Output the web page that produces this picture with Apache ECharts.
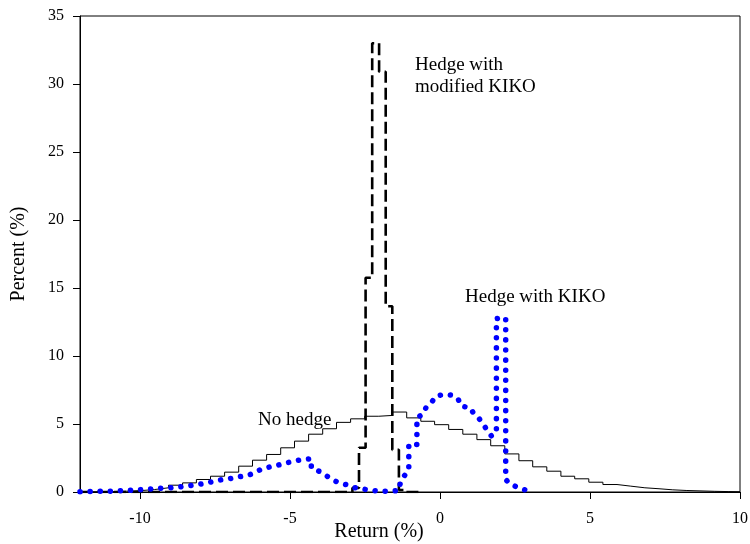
<!DOCTYPE html>
<html>
<head>
<meta charset="utf-8">
<script src="https://cdn.jsdelivr.net/npm/echarts@6/dist/echarts.min.js"></script>
<style>
  html, body { margin: 0; padding: 0; background: #fff; }
  #chart { width: 750px; height: 544px; }
</style>
</head>
<body>
<div id="chart"></div>
<script>
// No hedge: histogram bin edges (return, %) and the percentage in each bin
const noHedgeEdges = [
  -11.85, -11.38, -10.92, -10.45, -9.98, -9.52, -9.05, -8.58, -8.12, -7.65,
  -7.18, -6.71, -6.25, -5.78, -5.31, -4.85, -4.38, -3.91, -3.45, -2.98,
  -2.51, -2.04, -1.58, -1.11, -0.64, -0.18, 0.29, 0.76, 1.23, 1.69,
  2.16, 2.63, 3.09, 3.56, 4.03, 4.49, 4.96, 5.43, 5.90, 6.36,
  6.83, 7.30, 7.76, 8.23, 8.70, 9.16, 9.63, 10.0
];
const noHedgePct = [
  0.02, 0.03, 0.06, 0.10, 0.18, 0.31, 0.50, 0.67, 0.92, 1.16,
  1.46, 1.90, 2.34, 2.76, 3.25, 3.74, 4.25, 4.65, 5.12, 5.38,
  5.57, 5.63, 5.88, 5.45, 5.20, 4.95, 4.60, 4.25, 3.85, 3.40,
  2.80, 2.30, 1.85, 1.53, 1.16, 0.97, 0.72, 0.55, 0.43, 0.31,
  0.24, 0.16, 0.11, 0.08, 0.05, 0.03, 0.02
];

// Hedge with modified KIKO: bin edges and percentages
const modKikoEdges = [-12, -2.92, -2.70, -2.48, -2.26, -2.03, -1.81, -1.59, -1.37, -1.15, -0.67];
const modKikoPct = [0, 0.30, 3.25, 15.75, 33.0, 30.9, 13.66, 3.10, 0.15, 0];

// Hedge with KIKO: return / percentage pairs along the curve
const kikoReturn = [
  -12.0, -11.6, -11.0, -10.6, -10.3, -9.94, -9.6, -9.3, -9.0, -8.7,
  -8.39, -8.11, -7.81, -7.53, -7.24, -6.98, -6.7, -6.42, -6.17, -5.94,
  -5.69, -5.42, -5.13, -4.87, -4.59, -4.29, -4.29, -4.0, -3.8, -3.61,
  -3.36, -3.11, -2.87, -2.61, -2.31, -2.0, -1.69, -1.37, -1.32, -1.2,
  -1.04, -1.04, -0.77, -0.77, -0.56, -0.47, -0.28, -0.13, 0.11, 0.42,
  0.61, 0.72, 1.0, 1.13, 1.31, 1.44, 1.58, 1.72, 1.88, 1.88,
  2.19, 2.19, 2.33, 2.56, 2.8, 3.07
];
const kikoPct = [
  0.02, 0.04, 0.06, 0.10, 0.13, 0.18, 0.23, 0.28, 0.31, 0.38,
  0.44, 0.55, 0.63, 0.80, 0.92, 0.99, 1.12, 1.21, 1.41, 1.70,
  1.83, 1.96, 2.14, 2.27, 2.39, 2.44, 1.75, 1.50, 1.22, 0.92,
  0.67, 0.53, 0.32, 0.25, 0.11, 0.06, 0.06, 0.10, 0.70, 1.16,
  1.60, 3.50, 3.50, 5.45, 5.75, 6.19, 6.60, 7.04, 7.17, 7.12,
  6.80, 6.31, 6.19, 5.75, 5.38, 4.96, 4.54, 4.10, 4.47, 12.75,
  12.80, 0.92, 0.60, 0.37, 0.18, 0.00
];

const xTicks = [-10, -5, 0, 5, 10];

// Step series: one point per bin at its left edge, closed at the last edge
function binPoints(edges, pct) {
  const pts = pct.map((v, i) => [edges[i], v]);
  pts.push([edges[edges.length - 1], pct[pct.length - 1]]);
  return pts;
}

const serif = '"Liberation Serif", "Times New Roman", serif';
const chart = echarts.init(document.getElementById('chart'), null, { renderer: 'canvas' });

chart.setOption({
  animation: false,
  backgroundColor: '#fff',
  grid: {
    left: 80, right: 10, top: 16, bottom: 52,
    outerBoundsMode: 'none',
    containLabel: false,
    show: true, borderColor: '#000', borderWidth: 1, backgroundColor: 'transparent'
  },
  xAxis: {
    type: 'value',
    min: -12, max: 10,
    axisLine: { show: true, onZero: false, lineStyle: { color: '#000', width: 1 } },
    axisTick: { show: true, length: 7, customValues: xTicks, lineStyle: { color: '#000' } },
    axisLabel: { customValues: xTicks, margin: 19, color: '#000', fontFamily: serif, fontSize: 16 },
    splitLine: { show: false },
    name: 'Return (%)',
    nameLocation: 'middle',
    nameGap: 30,
    nameMoveOverlap: false,
    nameTextStyle: { color: '#000', fontFamily: serif, fontSize: 20, padding: [0, 62, 0, 0] }
  },
  yAxis: {
    type: 'value',
    min: 0, max: 35, interval: 5,
    axisLine: { show: true, onZero: false, lineStyle: { color: '#000', width: 1 } },
    axisTick: { show: true, length: 7, lineStyle: { color: '#000' } },
    axisLabel: { margin: 16, color: '#000', fontFamily: serif, fontSize: 16 },
    splitLine: { show: false },
    name: 'Percent (%)',
    nameLocation: 'middle',
    nameGap: 51,
    nameMoveOverlap: false,
    nameTextStyle: { color: '#000', fontFamily: serif, fontSize: 20 }
  },
  series: [
    {
      name: 'No hedge',
      type: 'line',
      step: 'end',
      data: binPoints(noHedgeEdges, noHedgePct),
      showSymbol: false,
      lineStyle: { color: '#000', width: 1 },
      z: 2
    },
    {
      name: 'Hedge with modified KIKO',
      type: 'line',
      step: 'end',
      data: binPoints(modKikoEdges, modKikoPct),
      showSymbol: false,
      lineStyle: { color: '#000', width: 2.6, type: [12, 5] },
      z: 3
    },
    {
      name: 'Hedge with KIKO',
      type: 'line',
      data: kikoReturn.map((x, i) => [x, kikoPct[i]]),
      showSymbol: false,
      lineStyle: { color: '#0000ff', width: 5.5, type: [0.1, 10], cap: 'round', join: 'round' },
      z: 4
    }
  ],
  graphic: [
    {
      type: 'text', x: 415, y: 54,
      style: { text: 'Hedge with\nmodified KIKO', font: '19px ' + serif, fill: '#000', lineHeight: 22, verticalAlign: 'top' }
    },
    {
      type: 'text', x: 465, y: 288,
      style: { text: 'Hedge with KIKO', font: '19px ' + serif, fill: '#000', verticalAlign: 'top' }
    },
    {
      type: 'text', x: 258, y: 411,
      style: { text: 'No hedge', font: '19px ' + serif, fill: '#000', verticalAlign: 'top' }
    }
  ]
});
</script>
</body>
</html>
